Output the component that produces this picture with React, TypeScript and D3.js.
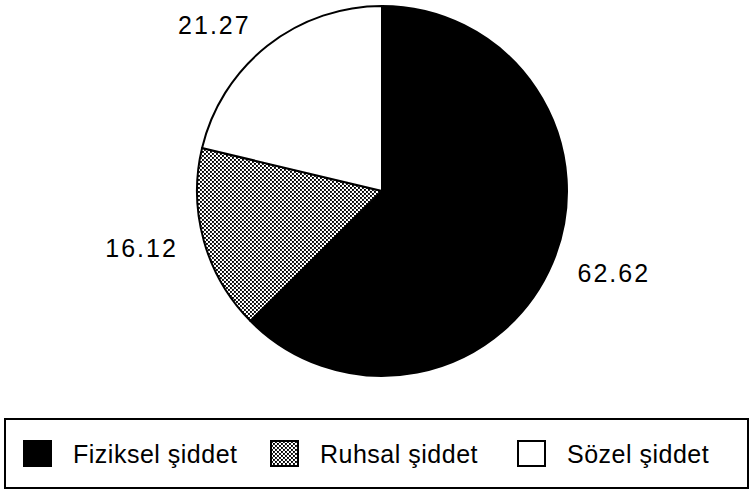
import { useEffect, useRef } from "react";
import * as d3 from "d3";

const categories = ["Fiziksel şiddet", "Ruhsal şiddet", "Sözel şiddet"];
const values = [62.62, 16.12, 21.27];
const valueLabels = ["62.62", "16.12", "21.27"];
const fills = ["#000", "url(#dots)", "#fff"];

export default function App() {
    const ref = useRef<SVGSVGElement>(null);

    useEffect(() => {
        const svg = d3.select(ref.current);
        svg.selectAll("*").remove();

        const width = 752;
        const cx = 382, cy = 191, r = 185;

        const defs = svg.append("defs");
        const pat = defs.append("pattern")
            .attr("id", "dots")
            .attr("patternUnits", "userSpaceOnUse")
            .attr("width", 4)
            .attr("height", 4);
        pat.append("rect").attr("width", 4).attr("height", 4).attr("fill", "#fff");
        pat.append("rect").attr("x", 0).attr("y", 0).attr("width", 1.9).attr("height", 1.9).attr("fill", "#000");
        pat.append("rect").attr("x", 2).attr("y", 2).attr("width", 1.9).attr("height", 1.9).attr("fill", "#000");

        const pie = d3.pie<number>().sort(null).value((d) => d);
        const arcs = pie(values);
        const arc = d3.arc<d3.PieArcDatum<number>>().innerRadius(0).outerRadius(r);
        const labelArc = d3.arc<d3.PieArcDatum<number>>().innerRadius(212).outerRadius(212);

        const g = svg.append("g").attr("transform", `translate(${cx},${cy})`);
        g.selectAll("path")
            .data(arcs)
            .join("path")
            .attr("d", arc)
            .attr("fill", (_, i) => fills[i])
            .attr("stroke", "#000")
            .attr("stroke-width", 2)
            .attr("stroke-linejoin", "round");

        const mid = (d: d3.PieArcDatum<number>) => (d.startAngle + d.endAngle) / 2;
        g.selectAll("text")
            .data(arcs)
            .join("text")
            .attr("x", (d) => labelArc.centroid(d)[0])
            .attr("y", (d) => labelArc.centroid(d)[1])
            .attr("text-anchor", (d) => (mid(d) < Math.PI ? "start" : "end"))
            .attr("dominant-baseline", "central")
            .attr("font-family", "'Liberation Sans', Arial, sans-serif")
            .attr("font-size", 25)
            .attr("letter-spacing", 2)
            .text((_, i) => valueLabels[i]);

        // legend
        svg.append("rect")
            .attr("x", 5)
            .attr("y", 419)
            .attr("width", width - 9)
            .attr("height", 69)
            .attr("fill", "none")
            .attr("stroke", "#000")
            .attr("stroke-width", 2);

        const lx = d3.scaleLinear().domain([0, categories.length - 1]).range([24, 518]);
        const items = svg.append("g")
            .selectAll("g")
            .data(categories)
            .join("g")
            .attr("transform", (_, i) => `translate(${lx(i)},441)`);

        items.append("rect")
            .attr("width", 27)
            .attr("height", 25)
            .attr("fill", (_, i) => fills[i])
            .attr("stroke", "#000")
            .attr("stroke-width", 2);

        items.append("text")
            .attr("x", 49)
            .attr("y", 13)
            .attr("dominant-baseline", "central")
            .attr("font-family", "'Liberation Sans', Arial, sans-serif")
            .attr("font-size", 25)
            .attr("letter-spacing", 0.5)
            .text((d) => d);
    }, []);

    return (
        <svg
            ref={ref}
            width={752}
            height={492}
            style={{ position: "absolute", left: 0, top: 0, background: "#fff" }}
        />
    );
}
